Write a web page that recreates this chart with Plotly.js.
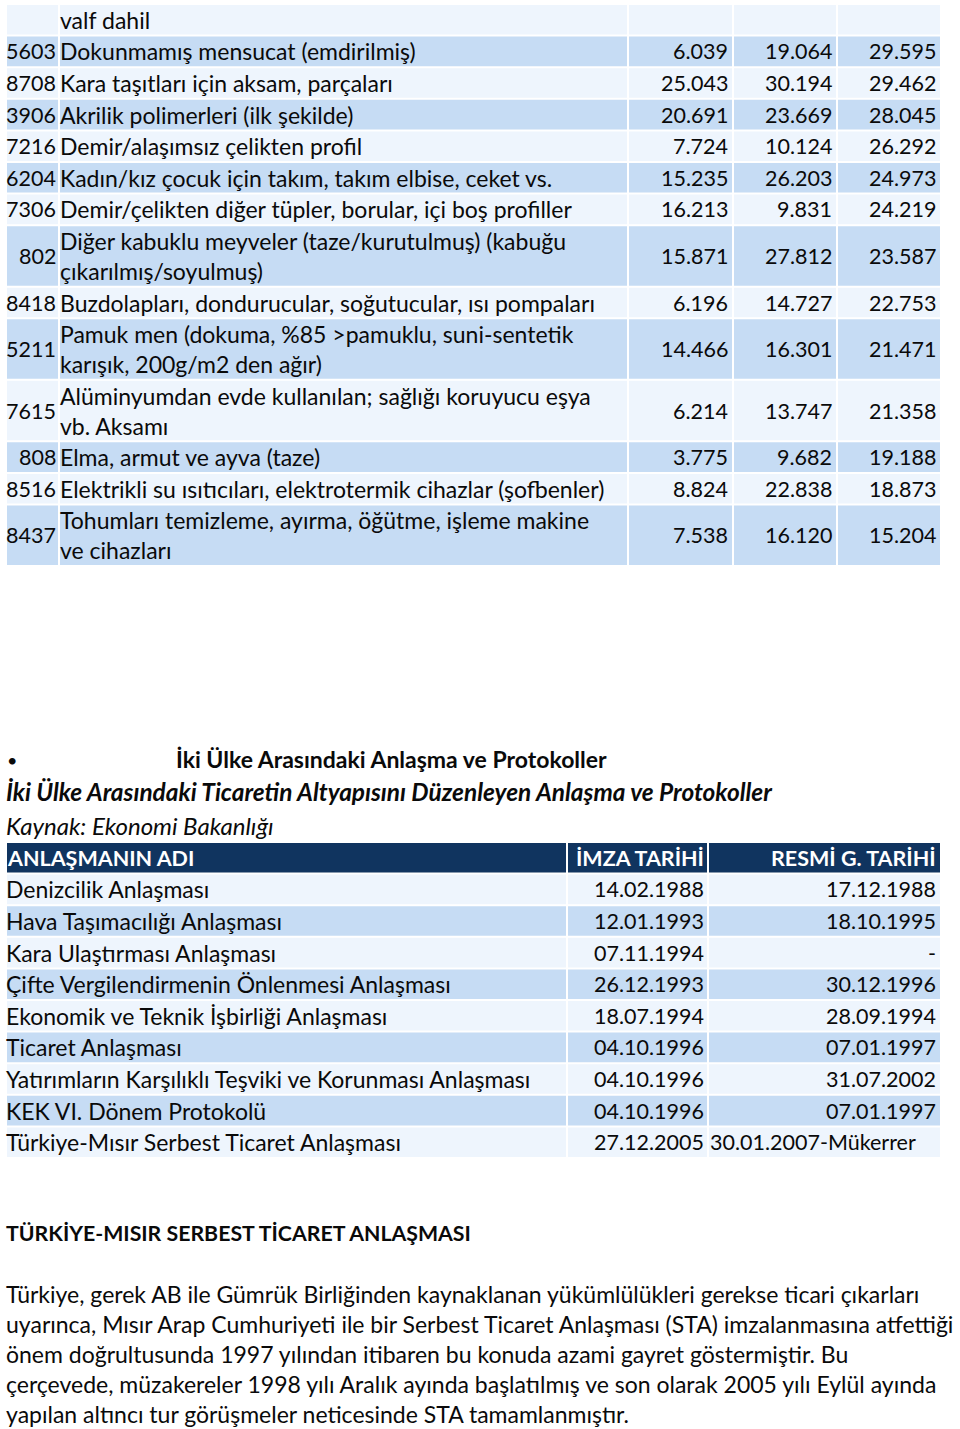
<!DOCTYPE html>
<html>
<head>
<meta charset="utf-8">
<script src="https://cdn.plot.ly/plotly-3.0.1.min.js"></script>
<style>html,body{margin:0;padding:0;background:#fff;}#chart{width:960px;height:1429px;}</style>
</head>
<body>
<div id="chart"></div>
<script>
// ---------- Table 1 data ----------
var codes = ["", "5603", "8708", "3906", "7216", "6204", "7306", "802", "8418", "5211", "7615", "808", "8516", "8437"];
var products = [
  "valf dahil",
  "Dokunmamış mensucat (emdirilmiş)",
  "Kara taşıtları için aksam, parçaları",
  "Akrilik polimerleri (ilk şekilde)",
  "Demir/alaşımsız çelikten profil",
  "Kadın/kız çocuk için takım, takım elbise, ceket vs.",
  "Demir/çelikten diğer tüpler, borular, içi boş profiller",
  "Diğer kabuklu meyveler (taze/kurutulmuş) (kabuğu<br>çıkarılmış/soyulmuş)",
  "Buzdolapları, dondurucular, soğutucular, ısı pompaları",
  "Pamuk men (dokuma, %85 >pamuklu, suni-sentetik<br>karışık, 200g/m2 den ağır)",
  "Alüminyumdan evde kullanılan; sağlığı koruyucu eşya<br>vb. Aksamı",
  "Elma, armut ve ayva (taze)",
  "Elektrikli su ısıtıcıları, elektrotermik cihazlar (şofbenler)",
  "Tohumları temizleme, ayırma, öğütme, işleme makine<br>ve cihazları"
];
var value1 = [null, 6039, 25043, 20691, 7724, 15235, 16213, 15871, 6196, 14466, 6214, 3775, 8824, 7538];
var value2 = [null, 19064, 30194, 23669, 10124, 26203, 9831, 27812, 14727, 16301, 13747, 9682, 22838, 16120];
var value3 = [null, 29595, 29462, 28045, 26292, 24973, 24219, 23587, 22753, 21471, 21358, 19188, 18873, 15204];

// ---------- Table 2 data ----------
var agreementHeader = ["ANLAŞMANIN ADI", "İMZA TARİHİ", "RESMİ G. TARİHİ"];
var agreements = [
  "Denizcilik Anlaşması",
  "Hava Taşımacılığı Anlaşması",
  "Kara Ulaştırması Anlaşması",
  "Çifte Vergilendirmenin Önlenmesi Anlaşması",
  "Ekonomik ve Teknik İşbirliği Anlaşması",
  "Ticaret Anlaşması",
  "Yatırımların Karşılıklı Teşviki ve Korunması Anlaşması",
  "KEK VI. Dönem Protokolü",
  "Türkiye-Mısır Serbest Ticaret Anlaşması"
];
var signDates = ["14.02.1988", "12.01.1993", "07.11.1994", "26.12.1993", "18.07.1994", "04.10.1996", "04.10.1996", "04.10.1996", "27.12.2005"];
var gazetteDates = ["17.12.1988", "18.10.1995", "-", "30.12.1996", "28.09.1994", "07.01.1997", "31.07.2002", "07.01.1997", "30.01.2007-Mükerrer"];

// ---------- Texts ----------
var bulletTitle = "İki Ülke Arasındaki Anlaşma ve Protokoller";
var tableTitle = "İki Ülke Arasındaki Ticaretin Altyapısını Düzenleyen Anlaşma ve Protokoller";
var sourceText = "Kaynak: Ekonomi Bakanlığı";
var sectionTitle = "TÜRKİYE-MISIR SERBEST TİCARET ANLAŞMASI";
var paragraphLines = [
  "Türkiye, gerek AB ile Gümrük Birliğinden kaynaklanan yükümlülükleri gerekse ticari çıkarları",
  "uyarınca, Mısır Arap Cumhuriyeti ile bir Serbest Ticaret Anlaşması (STA) imzalanmasına atfettiği",
  "önem doğrultusunda 1997 yılından itibaren bu konuda azami gayret göstermiştir. Bu",
  "çerçevede, müzakereler 1998 yılı Aralık ayında başlatılmış ve son olarak 2005 yılı Eylül ayında",
  "yapılan altıncı tur görüşmeler neticesinde STA tamamlanmıştır."
];

// ---------- Styles / layout geometry ----------
var FONT = "Lato, 'Open Sans', sans-serif";
var FS = 23;      // running text
var FSN = 21.5;   // numbers / codes / dates
var DARK = "#c6dcf4";
var LIGHT = "#eef5fd";
var NAVY = "#10345f";
var TXT = "#0a0a0a";

function fmt(v) {
  if (v === null || v === undefined) return "";
  return String(v).replace(/\B(?=(\d{3})+(?!\d))/g, ".");
}

var shapes = [];
var annotations = [];

function rect(x0, x1, y0, y1, color) {
  shapes.push({type: "rect", xref: "x", yref: "y", x0: x0 + 1, x1: x1 - 1, y0: y0 + 1, y1: y1 - 1,
    fillcolor: color, line: {width: 0}, layer: "below"});
}
function text(t, x, y, anchor, opts) {
  opts = opts || {};
  annotations.push({xref: "x", yref: "y", x: x, y: y, text: t, showarrow: false,
    xanchor: anchor, yanchor: "middle", align: anchor === "right" ? "right" : "left",
    font: {family: FONT, size: opts.size || FS, color: opts.color || TXT, weight: opts.weight || "normal"},
    borderpad: 0});
}

// Table 1
var t1Cols = [6, 59, 628, 733, 837, 941];
var rowTop = 4;
for (var i = 0; i < codes.length; i++) {
  var lines = products[i].split("<br>");
  var h = lines.length === 1 ? 31.6 : 61.5;
  var color = (i % 2 === 0) ? LIGHT : DARK;
  for (var c = 0; c < 5; c++) rect(t1Cols[c], t1Cols[c + 1], rowTop, rowTop + h, color);
  var cy = rowTop + h / 2;
  text(codes[i], t1Cols[1] - 2, cy, "right", {size: FSN});
  if (lines.length === 1) {
    text(lines[0], t1Cols[1], cy, "left");
  } else {
    text(lines[0], t1Cols[1], cy - 15, "left");
    text(lines[1], t1Cols[1], cy + 15, "left");
  }
  text(fmt(value1[i]), t1Cols[3] - 4, cy, "right", {size: FSN});
  text(fmt(value2[i]), t1Cols[4] - 4, cy, "right", {size: FSN});
  text(fmt(value3[i]), t1Cols[5] - 4, cy, "right", {size: FSN});
  rowTop += h;
}

// Headings
text("•", 6, 760, "left", {size: 18});
text(bulletTitle, 175, 759, "left", {weight: "bold"});
text("<b><i>" + tableTitle + "</i></b>", 5, 791, "left", {size: 24.4});
text("<i>" + sourceText + "</i>", 5, 825, "left", {size: 24});

// Table 2
var t2Cols = [6, 567, 708, 941];
var hdrTop = 842;
var rh = 31.6;
for (var c2 = 0; c2 < 3; c2++) rect(t2Cols[c2], t2Cols[c2 + 1], hdrTop, hdrTop + rh, NAVY);
text(agreementHeader[0], t2Cols[0], hdrTop + rh / 2, "left", {color: "#ffffff", weight: "bold", size: FSN});
text(agreementHeader[1], t2Cols[2] - 3, hdrTop + rh / 2, "right", {color: "#ffffff", weight: "bold", size: FSN});
text(agreementHeader[2], t2Cols[3] - 4, hdrTop + rh / 2, "right", {color: "#ffffff", weight: "bold", size: FSN});
for (var r = 0; r < agreements.length; r++) {
  var cellTop = hdrTop + rh * (r + 1);
  var col = (r % 2 === 0) ? LIGHT : DARK;
  for (var k = 0; k < 3; k++) rect(t2Cols[k], t2Cols[k + 1], cellTop, cellTop + rh, col);
  var my = cellTop + rh / 2;
  text(agreements[r], t2Cols[0] - 1, my, "left");
  text(signDates[r], t2Cols[2] - 3, my, "right", {size: FSN});
  var g = gazetteDates[r];
  if (g.length <= 10) text(g, t2Cols[3] - 4, my, "right", {size: FSN});
  else text(g, t2Cols[2] + 1, my, "left", {size: FSN});
}

// Section and paragraph
text(sectionTitle, 5, 1233, "left", {weight: "bold", size: 21.3});
for (var p = 0; p < paragraphLines.length; p++) {
  text(paragraphLines[p], 5, 1294 + 30 * p, "left");
}

var layout = {
  width: 960, height: 1429,
  margin: {l: 0, r: 0, t: 0, b: 0},
  paper_bgcolor: "#ffffff", plot_bgcolor: "#ffffff",
  xaxis: {range: [0, 960], visible: false, fixedrange: true},
  yaxis: {range: [1429, 0], visible: false, fixedrange: true},
  showlegend: false,
  shapes: shapes,
  annotations: annotations
};
Plotly.newPlot("chart", [], layout, {staticPlot: true, displayModeBar: false});
</script>
</body>
</html>
